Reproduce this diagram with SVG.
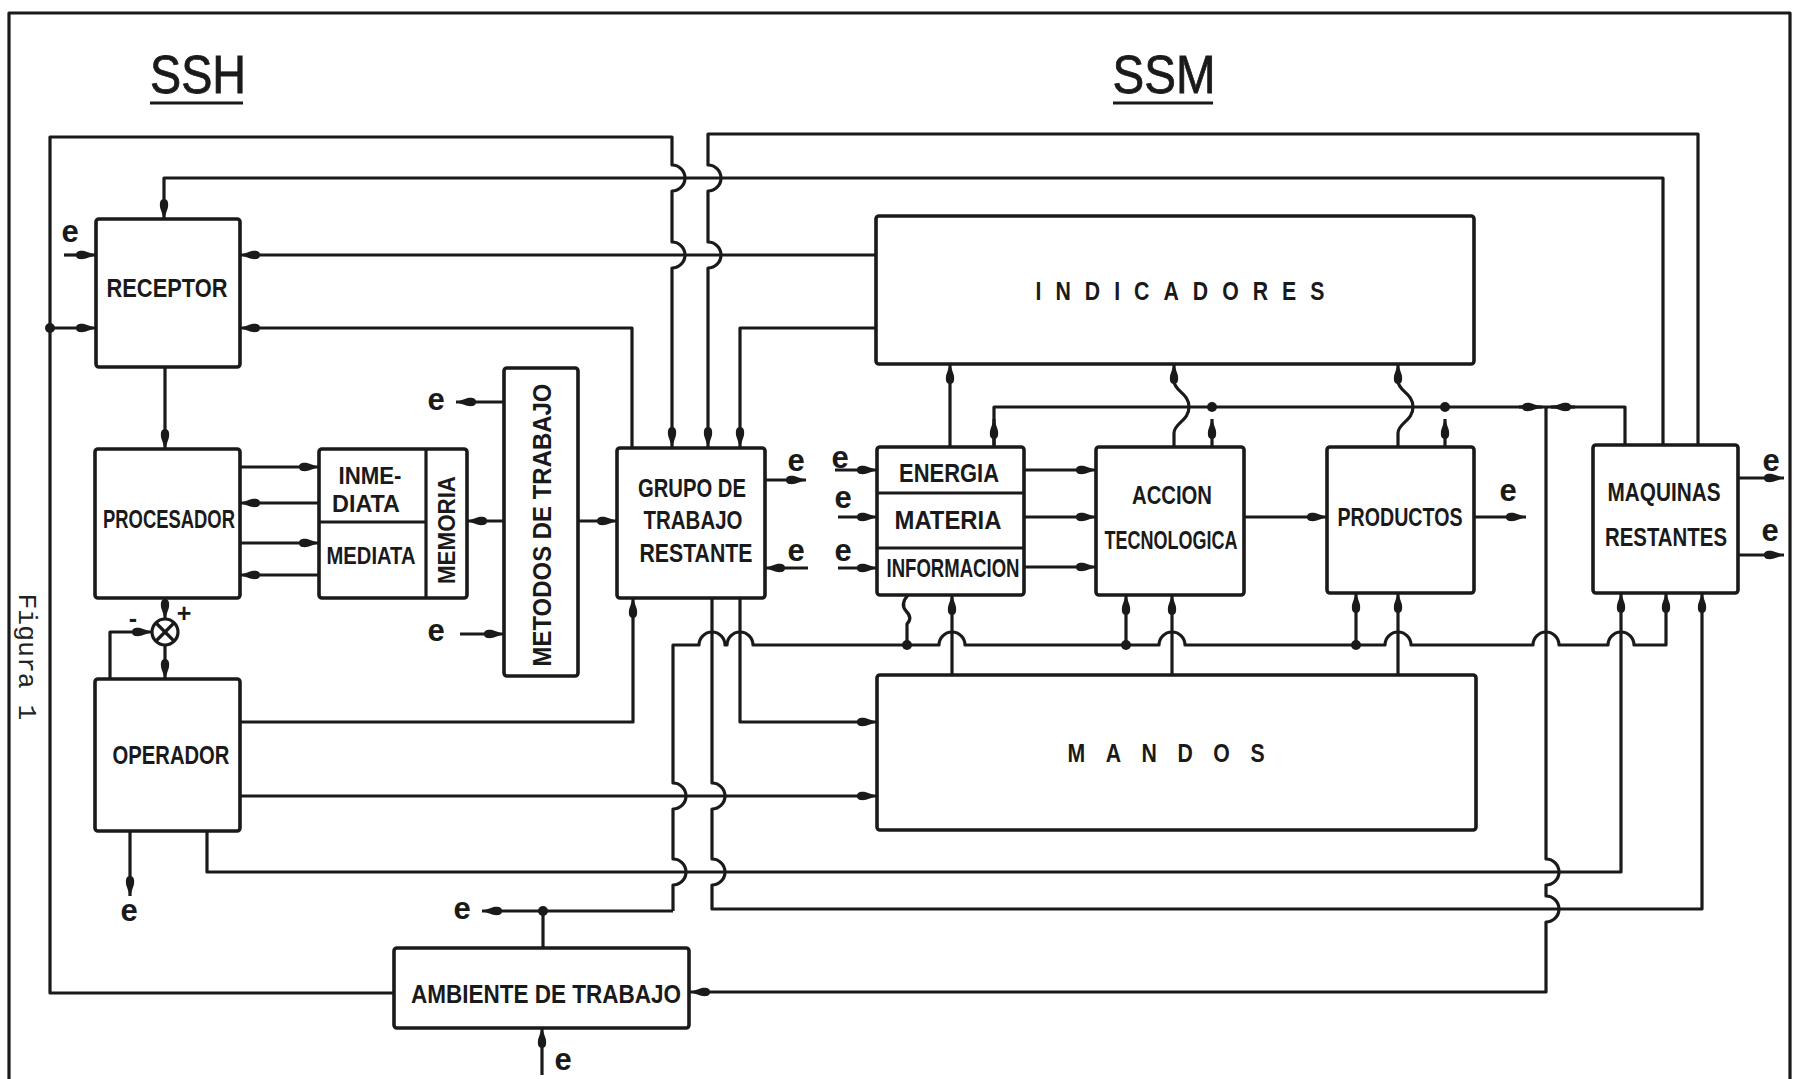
<svg xmlns="http://www.w3.org/2000/svg" width="1808" height="1079" viewBox="0 0 1808 1079">
<defs>
<style>
.box{fill:none;stroke:#1a1a1a;stroke-width:3.6;stroke-linejoin:round}
.ln{fill:none;stroke:#1a1a1a;stroke-width:3.2;stroke-linejoin:round}
.ar{marker-end:url(#ar)}
.t{font-family:"Liberation Sans",Arial,sans-serif;font-weight:bold;font-size:25px;fill:#1a1a1a;text-anchor:middle}
.m{font-size:23px}
.e{font-family:"Liberation Sans",Arial,sans-serif;font-weight:bold;font-size:31px;fill:#1a1a1a;text-anchor:middle}
.h{font-family:"Liberation Sans",Arial,sans-serif;font-size:53px;fill:#1a1a1a;text-anchor:middle;stroke:#1a1a1a;stroke-width:0.8}
.dot{fill:#1a1a1a}
</style>
<marker id="ar" viewBox="0 0 20 10" refX="20" refY="5" markerWidth="20" markerHeight="10" markerUnits="userSpaceOnUse" orient="auto">
<path d="M0,5 C0,1 4,0.3 9,1.2 L20,5 L9,8.8 C4,9.7 0,9 0,5z" fill="#1a1a1a"/>
</marker>
</defs>
<rect width="1808" height="1079" fill="#fff"/>
<path class="ln" d="M9,1079 V13 H1790 V1079"/>
<g id="titles">
<text class="h" x="198" y="93" textLength="96" lengthAdjust="spacingAndGlyphs">SSH</text>
<line class="ln" x1="150" y1="103" x2="243" y2="103"/>
<text class="h" x="1164" y="93" textLength="103" lengthAdjust="spacingAndGlyphs">SSM</text>
<line class="ln" x1="1113" y1="103" x2="1213" y2="103"/>
<text transform="translate(27,657) rotate(90)" x="0" y="8" font-family="Liberation Mono, Courier New, monospace" font-size="26" fill="#222" text-anchor="middle" textLength="127" lengthAdjust="spacingAndGlyphs">Figura 1</text>
</g>
<g id="receptor"><rect class="box" x="96" y="219" width="144" height="148" rx="3"/><text class="t" x="167" y="297" textLength="121" lengthAdjust="spacingAndGlyphs">RECEPTOR</text></g>
<g id="procesador"><rect class="box" x="95" y="449" width="145" height="149" rx="3"/><text class="t" x="169" y="528" textLength="132" lengthAdjust="spacingAndGlyphs">PROCESADOR</text></g>
<g id="operador"><rect class="box" x="95" y="679" width="145" height="152" rx="3"/><text class="t" x="171" y="764" textLength="117" lengthAdjust="spacingAndGlyphs">OPERADOR</text></g>
<g id="memoria"><rect class="box" x="319" y="449" width="148" height="149" rx="3"/>
<line class="ln" x1="426" y1="449" x2="426" y2="598"/><line class="ln" x1="319" y1="522" x2="426" y2="522"/>
<text class="t m" x="370" y="484" textLength="63" lengthAdjust="spacingAndGlyphs">INME-</text>
<text class="t m" x="366" y="512" textLength="68" lengthAdjust="spacingAndGlyphs">DIATA</text>
<text class="t m" x="371" y="564" textLength="89" lengthAdjust="spacingAndGlyphs">MEDIATA</text>
<text class="t m" transform="translate(447,530) rotate(-90)" x="0" y="8" textLength="108" lengthAdjust="spacingAndGlyphs">MEMORIA</text></g>
<g id="metodos"><rect class="box" x="504" y="368" width="74" height="308" rx="3"/><text class="t" transform="translate(542,525) rotate(-90)" x="0" y="9" textLength="283" lengthAdjust="spacingAndGlyphs">METODOS DE TRABAJO</text></g>
<g id="grupo"><rect class="box" x="617" y="448" width="148" height="150" rx="3"/>
<text class="t" x="692" y="497" textLength="108" lengthAdjust="spacingAndGlyphs">GRUPO DE</text>
<text class="t" x="693" y="529" textLength="99" lengthAdjust="spacingAndGlyphs">TRABAJO</text>
<text class="t" x="696" y="562" textLength="113" lengthAdjust="spacingAndGlyphs">RESTANTE</text></g>
<g id="indicadores"><rect class="box" x="876" y="216" width="598" height="148" rx="3"/>
<text class="t" transform="translate(1180,300) scale(0.85,1)" x="0" y="0" font-size="26" textLength="340" lengthAdjust="spacing">INDICADORES</text></g>
<g id="insumos"><rect class="box" x="877" y="447" width="147" height="148" rx="3"/>
<line class="ln" x1="877" y1="493" x2="1024" y2="493"/><line class="ln" x1="877" y1="548" x2="1024" y2="548"/>
<text class="t" x="949" y="482" textLength="100" lengthAdjust="spacingAndGlyphs">ENERGIA</text>
<text class="t" x="948" y="529" textLength="107" lengthAdjust="spacingAndGlyphs">MATERIA</text>
<text class="t" x="953" y="577" textLength="133" lengthAdjust="spacingAndGlyphs">INFORMACION</text></g>
<g id="accion"><rect class="box" x="1096" y="447" width="148" height="148" rx="3"/>
<text class="t" x="1172" y="504" textLength="80" lengthAdjust="spacingAndGlyphs">ACCION</text>
<text class="t" x="1171" y="549" textLength="133" lengthAdjust="spacingAndGlyphs">TECNOLOGICA</text></g>
<g id="productos"><rect class="box" x="1327" y="447" width="147" height="146" rx="3"/>
<text class="t" x="1400" y="526" textLength="125" lengthAdjust="spacingAndGlyphs">PRODUCTOS</text></g>
<g id="maquinas"><rect class="box" x="1593" y="445" width="145" height="148" rx="3"/>
<text class="t" x="1664" y="501" textLength="113" lengthAdjust="spacingAndGlyphs">MAQUINAS</text>
<text class="t" x="1666" y="546" textLength="122" lengthAdjust="spacingAndGlyphs">RESTANTES</text></g>
<g id="mandos"><rect class="box" x="877" y="675" width="599" height="155" rx="3"/>
<text class="t" transform="translate(1166,762) scale(0.85,1)" x="0" y="0" font-size="26" textLength="232" lengthAdjust="spacing">MANDOS</text></g>
<g id="ambiente"><rect class="box" x="394" y="948" width="295" height="80" rx="3"/>
<text class="t" x="546" y="1003" textLength="270" lengthAdjust="spacingAndGlyphs">AMBIENTE DE TRABAJO</text></g>
<g id="sumador"><circle class="ln" cx="165" cy="632" r="13"/>
<line class="ln" x1="156" y1="623" x2="174" y2="641"/><line class="ln" x1="174" y1="623" x2="156" y2="641"/>
<text class="t" x="133" y="627" font-size="26">-</text><text class="t" x="184" y="622" font-size="24">+</text></g>
<g id="connectors">
<path class="ln ar" d="M394,993 H50 V137 H672 V165 A13,13 0 0 1 672,191 V242 A13,13 0 0 1 672,268 V447"/>
<path class="ln ar" d="M50,328 H96"/>
<path class="ln ar" d="M1698,445 V134 H708 V165 A13,13 0 0 1 708,191 V242 A13,13 0 0 1 708,268 V447"/>
<path class="ln ar" d="M1663,445 V178 H164 V219"/>
<path class="ln ar" d="M876,255 H240"/>
<path class="ln ar" d="M632,447 V328 H240"/>
<path class="ln ar" d="M876,328 H740 V447"/>
<path class="ln ar" d="M64,255 H96"/>
<path class="ln ar" d="M165,367 V449"/>
<path class="ln ar" d="M240,467 H319"/>
<path class="ln ar" d="M319,503 H240"/>
<path class="ln ar" d="M240,543 H319"/>
<path class="ln ar" d="M319,575 H240"/>
<path class="ln ar" d="M504,521 H467"/>
<path class="ln ar" d="M578,521 H617"/>
<path class="ln ar" d="M504,402 H456"/>
<path class="ln ar" d="M460,634 H504"/>
<path class="ln ar" d="M165,598 V619"/>
<path class="ln ar" d="M165,645 V679"/>
<path class="ln ar" d="M110,679 V632 H152"/>
<path class="ln ar" d="M130,831 V896"/>
<path class="ln ar" d="M240,722 H633 V598"/>
<path class="ln ar" d="M240,796 H877"/>
<path class="ln ar" d="M740,598 V722 H877"/>
<path class="ln ar" d="M207,831 V872 H1621 V593"/>
<path class="ln ar" d="M712,598 V783 A13,13 0 0 1 712,809 V859 A13,13 0 0 1 712,885 V909 H1702 V593"/>
<path class="ln ar" d="M673,911 V885 A13,13 0 0 0 673,859 V809 A13,13 0 0 0 673,783 V645 H699 A13,13 0 0 1 725,645 H727 A13,13 0 0 1 753,645 H939 A13,13 0 0 1 965,645 H1159 A13,13 0 0 1 1185,645 H1385 A13,13 0 0 1 1411,645 H1533 A13,13 0 0 1 1559,645 H1608 A13,13 0 0 1 1634,645 H1666 V593"/>
<path class="ln ar" d="M673,911 H482"/>
<path class="ln" d="M543,948 V911"/>
<circle class="dot" cx="543" cy="911" r="5"/>
<path class="ln ar" d="M1126,645 V595"/>
<path class="ln ar" d="M1356,645 V593"/>
<path class="ln" d="M907,645 V624 Q913,618 906,611 Q900,604 908,595"/>
<circle class="dot" cx="907" cy="645" r="5"/><circle class="dot" cx="1126" cy="645" r="5"/><circle class="dot" cx="1356" cy="645" r="5"/>
<path class="ln ar" d="M952,675 V595"/>
<path class="ln ar" d="M1172,675 V595"/>
<path class="ln ar" d="M1398,675 V593"/>
<path class="ln ar" d="M1546,407 V859 A13,13 0 0 1 1546,885 V896 A13,13 0 0 1 1546,922 V992 H690"/>
<path class="ln" d="M994,447 V407 H1625 V445"/>
<path class="ln ar" d="M994,445 V419"/>
<path class="ln ar" d="M1212,447 V419"/>
<path class="ln ar" d="M1445,447 V419"/>
<circle class="dot" cx="1212" cy="407" r="5"/><circle class="dot" cx="1445" cy="407" r="5"/>
<path class="ln ar" d="M1519,407 H1542"/>
<path class="ln ar" d="M1575,407 H1551"/>
<path class="ln ar" d="M950,447 V364"/>
<path class="ln ar" d="M1174,447 V433 C1174,423 1189,421 1189,407 C1189,393 1174,391 1174,381 V364"/>
<path class="ln ar" d="M1398,447 V433 C1398,423 1413,421 1413,407 C1413,393 1398,391 1398,381 V364"/>
<path class="ln ar" d="M835,470 H877"/>
<path class="ln ar" d="M838,517 H877"/>
<path class="ln ar" d="M838,568 H877"/>
<path class="ln ar" d="M1024,470 H1096"/>
<path class="ln ar" d="M1024,517 H1096"/>
<path class="ln ar" d="M1024,567 H1096"/>
<path class="ln ar" d="M1244,517 H1327"/>
<path class="ln ar" d="M1474,517 H1526"/>
<path class="ln ar" d="M765,480 H806"/>
<path class="ln ar" d="M808,568 H765"/>
<path class="ln ar" d="M1738,478 H1784"/>
<path class="ln ar" d="M1738,555 H1784"/>
<path class="ln ar" d="M542,1075 V1028"/>
<circle class="dot" cx="50" cy="328" r="5"/>
</g>
<g id="e-labels">
<text class="e" x="70" y="242">e</text>
<text class="e" x="436" y="410">e</text>
<text class="e" x="436" y="641">e</text>
<text class="e" x="129" y="921">e</text>
<text class="e" x="462" y="919">e</text>
<text class="e" x="563" y="1070">e</text>
<text class="e" x="796" y="471">e</text>
<text class="e" x="796" y="561">e</text>
<text class="e" x="840" y="468">e</text>
<text class="e" x="843" y="508">e</text>
<text class="e" x="843" y="561">e</text>
<text class="e" x="1508" y="501">e</text>
<text class="e" x="1771" y="471">e</text>
<text class="e" x="1770" y="541">e</text>
</g>
</svg>
